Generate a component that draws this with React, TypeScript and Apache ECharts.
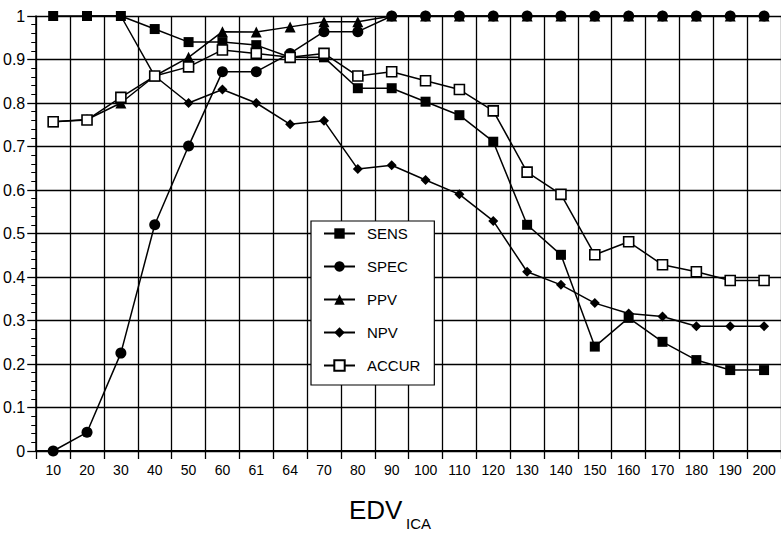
import React, { useEffect, useRef } from "react";
import * as echarts from "echarts";

const categories = ["10", "20", "30", "40", "50", "60", "61", "64", "70", "80", "90", "100", "110", "120", "130", "140", "150", "160", "170", "180", "190", "200"];
const sens = [1, 1, 1, 0.97, 0.94, 0.94, 0.933, 0.905, 0.905, 0.834, 0.834, 0.803, 0.772, 0.711, 0.52, 0.451, 0.24, 0.306, 0.251, 0.209, 0.186, 0.186];
const spec = [0, 0.043, 0.225, 0.52, 0.701, 0.872, 0.872, 0.914, 0.964, 0.964, 1, 1, 1, 1, 1, 1, 1, 1, 1, 1, 1, 1];
const ppv = [0.757, 0.762, 0.8, 0.862, 0.905, 0.964, 0.963, 0.975, 0.987, 0.987, 1, 1, 1, 1, 1, 1, 1, 1, 1, 1, 1, 1];
const npv = [null, 1, 1, 0.862, 0.8, 0.831, 0.8, 0.751, 0.759, 0.648, 0.657, 0.623, 0.59, 0.529, 0.412, 0.382, 0.34, 0.316, 0.309, 0.287, 0.287, 0.287];
const accur = [0.757, 0.761, 0.813, 0.862, 0.883, 0.922, 0.914, 0.905, 0.914, 0.862, 0.872, 0.851, 0.831, 0.782, 0.641, 0.59, 0.451, 0.481, 0.428, 0.412, 0.392, 0.392];

const FONT = "'Liberation Sans', Arial, Helvetica, sans-serif";

export default function App() {
  const ref = useRef<HTMLDivElement>(null);
  useEffect(() => {
    document.body.style.margin = "0";
    const chart = echarts.init(ref.current!, null, { renderer: "svg" });
    const mk = (name: string, data: any[], symbol: string, size: number, fill: string) => ({
      name,
      type: "line",
      data,
      symbol,
      symbolSize: size,
      showAllSymbol: true,
      clip: false,
      lineStyle: { color: "#000", width: 1.5 },
      itemStyle: { color: fill, borderColor: "#000", borderWidth: fill === "#fff" ? 1.6 : 0 },
      emphasis: { disabled: true },
    });
    chart.setOption({
      animation: false,
      textStyle: { fontFamily: FONT },
      grid: { left: 31, top: 16, bottom: 82, right: -8.5 },
      xAxis: {
        type: "category",
        data: categories,
        boundaryGap: true,
        axisLine: { lineStyle: { color: "#000", width: 2 } },
        axisTick: { show: true, length: 8, lineStyle: { color: "#000", width: 1.3 } },
        axisLabel: { color: "#000", fontSize: 14, margin: 12, fontFamily: FONT, interval: 0 },
        splitLine: { show: true, interval: 0, lineStyle: { color: "#000", width: 1.3 } },
      },
      yAxis: {
        type: "value",
        min: 0,
        max: 1,
        interval: 0.1,
        axisLine: { show: true, lineStyle: { color: "#000", width: 1.5 } },
        axisTick: { show: true, length: 9, lineStyle: { color: "#000", width: 1.3 } },
        minorTick: { show: true, splitNumber: 5, length: 5, lineStyle: { color: "#000", width: 1 } },
        axisLabel: { color: "#000", fontSize: 16, margin: 11, fontFamily: FONT },
        splitLine: { show: true, lineStyle: { color: "#000", width: 1.3 } },
      },
      legend: {
        orient: "vertical",
        left: 311,
        top: 221,
        width: 123,
        padding: [5, 14, 12, 12],
        backgroundColor: "#fff",
        borderColor: "#000",
        borderWidth: 1.2,
        borderRadius: 0,
        itemWidth: 31,
        itemHeight: 13,
        itemGap: 18,
        textStyle: { color: "#000", fontSize: 15, fontFamily: FONT, padding: [0, 0, 0, 7], lineHeight: 13 },
        data: ["SENS", "SPEC", "PPV", "NPV", "ACCUR"],
      },
      graphic: [
        { type: "text", x: 349, y: 523, style: { text: "EDV", font: `26px ${FONT}`, fill: "#000", textVerticalAlign: "bottom" } },
        { type: "text", x: 406, y: 531, style: { text: "ICA", font: `15px ${FONT}`, fill: "#000", textVerticalAlign: "bottom" } },
      ],
      series: [
        mk("SENS", sens, "rect", 10, "#000"),
        mk("SPEC", spec, "circle", 11, "#000"),
        mk("PPV", ppv, "triangle", 11, "#000"),
        mk("NPV", npv, "diamond", 10, "#000"),
        mk("ACCUR", accur, "rect", 10, "#fff"),
      ],
    });
    return () => chart.dispose();
  }, []);
  return <div ref={ref} style={{ width: 781, height: 533 }} />;
}
